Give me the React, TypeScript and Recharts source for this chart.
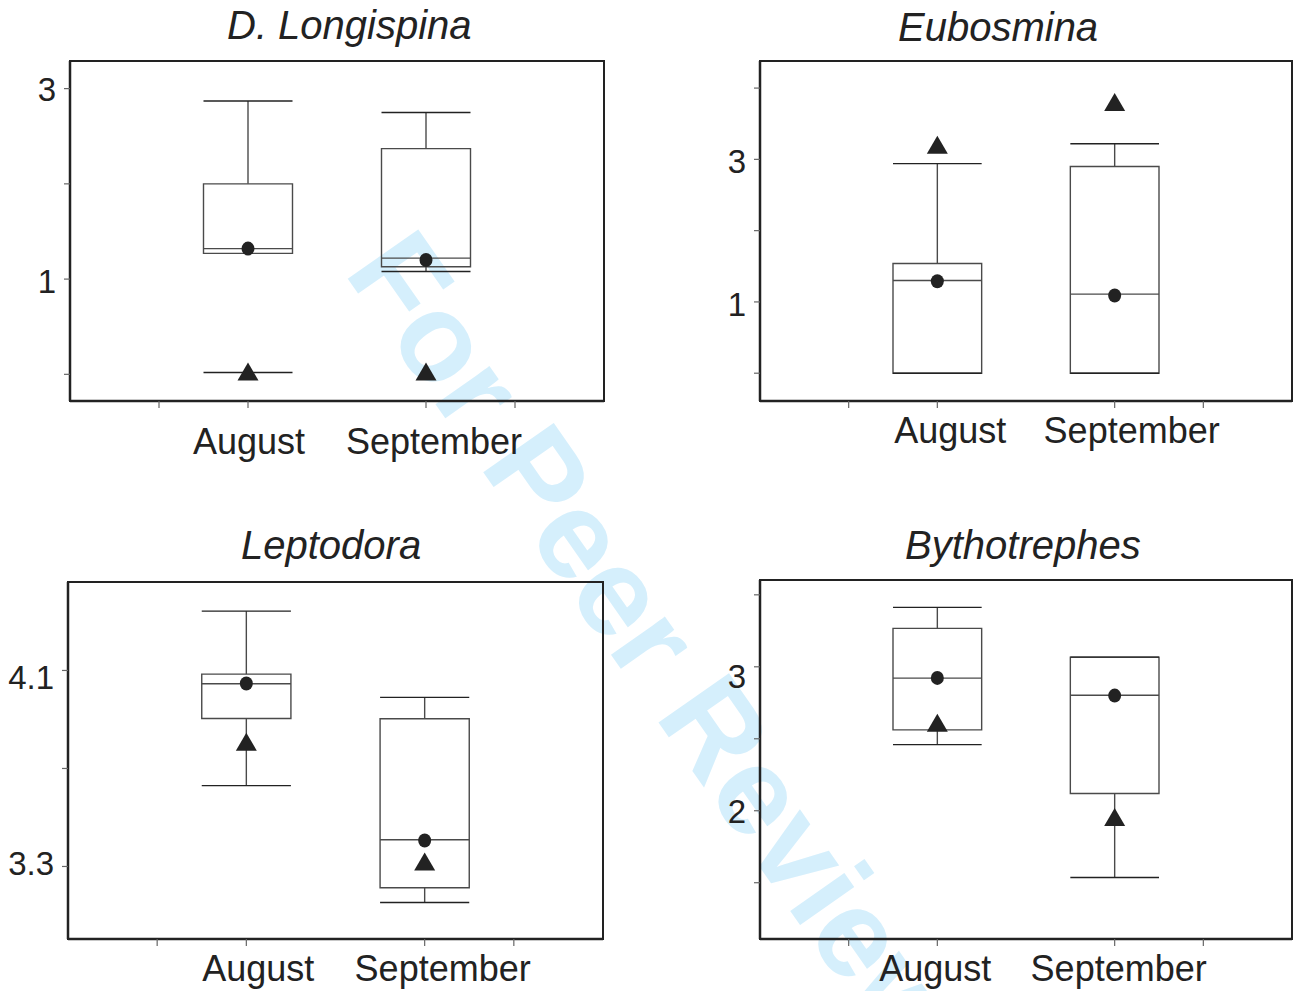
import React from 'react';
import { ComposedChart, XAxis, YAxis, Scatter, ReferenceArea, ReferenceLine } from 'recharts';

const MONTHS = ['August', 'September'];
const MONTH_POS = [1, 2];
const X_TICKS = [0.5, 1, 2, 2.5];

// D. Longispina  [August, September]
const longWhiskerHi = [2.87, 2.75];
const longBoxHi = [2.0, 2.37];
const longMedian = [1.32, 1.22];
const longBoxLo = [1.27, 1.13];
const longWhiskerLo = [0.02, 1.08];
const longMean = [1.32, 1.2];
const longTriangle = [0.02, 0.02];
const longTicks = [0, 1, 2, 3];
const longLabels = [1, 3];

// Eubosmina
const eubWhiskerHi = [2.94, 3.22];
const eubBoxHi = [1.54, 2.9];
const eubMedian = [1.3, 1.11];
const eubBoxLo = [0, 0];
const eubWhiskerLo = [0, 0];
const eubMean = [1.29, 1.09];
const eubTriangle = [3.19, 3.79];
const eubTicks = [0, 1, 2, 3, 4];
const eubLabels = [1, 3];

// Leptodora
const lepWhiskerHi = [4.342, 3.99];
const lepBoxHi = [4.085, 3.903];
const lepMedian = [4.046, 3.409];
const lepBoxLo = [3.904, 3.213];
const lepWhiskerLo = [3.63, 3.153];
const lepMean = [4.047, 3.406];
const lepTriangle = [3.805, 3.316];
const lepTicks = [3.3, 3.7, 4.1];
const lepLabels = [3.3, 4.1];

// Bythotrephes
const bytWhiskerHi = [3.413, 3.067];
const bytBoxHi = [3.267, 3.067];
const bytMedian = [2.921, 2.802];
const bytBoxLo = [2.562, 2.12];
const bytWhiskerLo = [2.459, 1.536];
const bytMean = [2.923, 2.8];
const bytTriangle = [2.605, 1.95];
const bytTicks = [1.5, 2, 2.5, 3, 3.5];
const bytLabels = [2, 3];

const INK = '#222';
const BOX = '#4a4a4a';
const HALF = 0.25;

const panels = [
  {
    title: 'D. Longispina', titleX: 227, titleY: 39,
    whiskerHi: longWhiskerHi, boxHi: longBoxHi, median: longMedian, boxLo: longBoxLo,
    whiskerLo: longWhiskerLo, lowStem: [false, true], mean: longMean, tri: longTriangle,
    ticks: longTicks, labels: longLabels, labelDy: [2, 1], yDomain: [-0.28, 3.29],
    chart: { left: 0, top: 0, width: 650, height: 480 },
    plot: { x0: 70, x1: 604, y0: 61, y1: 401 },
    tickMargin: 20, shifts: [1, 8],
  },
  {
    title: 'Eubosmina', titleX: 898, titleY: 41,
    whiskerHi: eubWhiskerHi, boxHi: eubBoxHi, median: eubMedian, boxLo: eubBoxLo,
    whiskerLo: eubWhiskerLo, lowStem: [false, false], mean: eubMean, tri: eubTriangle,
    ticks: eubTicks, labels: eubLabels, labelDy: [2, 2], yDomain: [-0.39, 4.38],
    chart: { left: 680, top: 0, width: 613, height: 480 },
    plot: { x0: 760, x1: 1292, y0: 61, y1: 401 },
    tickMargin: 9, shifts: [13, 17],
  },
  {
    title: 'Leptodora', titleX: 241, titleY: 559,
    whiskerHi: lepWhiskerHi, boxHi: lepBoxHi, median: lepMedian, boxLo: lepBoxLo,
    whiskerLo: lepWhiskerLo, lowStem: [true, true], mean: lepMean, tri: lepTriangle,
    ticks: lepTicks, labels: lepLabels, labelDy: [-3, 7], yDomain: [3.004, 4.461],
    chart: { left: 0, top: 500, width: 650, height: 491 },
    plot: { x0: 68, x1: 603, y0: 582, y1: 939 },
    tickMargin: 9, shifts: [12, 18],
  },
  {
    title: 'Bythotrephes', titleX: 905, titleY: 559,
    whiskerHi: bytWhiskerHi, boxHi: bytBoxHi, median: bytMedian, boxLo: bytBoxLo,
    whiskerLo: bytWhiskerLo, lowStem: [true, true], mean: bytMean, tri: bytTriangle,
    ticks: bytTicks, labels: bytLabels, labelDy: [1, 9], yDomain: [1.109, 3.603],
    chart: { left: 680, top: 500, width: 613, height: 491 },
    plot: { x0: 760, x1: 1292, y0: 580, y1: 939 },
    tickMargin: 9, shifts: [-2, 4],
  },
];

const Dot = ({ cx, cy }: any) => <ellipse cx={cx} cy={cy} rx={6.5} ry={7} fill={INK} />;
const Tri = ({ cx, cy }: any) => (
  <polygon points={`${cx},${cy - 10} ${cx - 10.5},${cy + 8} ${cx + 10.5},${cy + 8}`} fill={INK} />
);

function BoxPanel({ p }: { p: any }) {
  const { chart, plot } = p;
  const margin = {
    top: plot.y0 - chart.top,
    left: plot.x0 - chart.left - 60,
    right: chart.left + chart.width - plot.x1,
    bottom: chart.top + chart.height - plot.y1 - 50,
  };
  const meanData = MONTH_POS.map((x, i) => ({ x, y: p.mean[i] }));
  const triData = MONTH_POS.map((x, i) => ({ x, y: p.tri[i] }));
  const seg = (x1: number, y1: number, x2: number, y2: number, key: string, color = BOX) => (
    <ReferenceLine
      key={key}
      segment={[{ x: x1, y: y1 }, { x: x2, y: y2 }]}
      stroke={color}
      strokeWidth={1.4}
    />
  );

  return (
    <div style={{ position: 'absolute', left: chart.left, top: chart.top }}>
      <ComposedChart width={chart.width} height={chart.height} margin={margin}>
        <XAxis
          type="number"
          dataKey="x"
          domain={[0, 3]}
          allowDataOverflow
          ticks={X_TICKS}
          interval={0}
          height={50}
          tickSize={7}
          tickMargin={p.tickMargin}
          axisLine={{ stroke: INK, strokeWidth: 2.5 }}
          tickLine={{ stroke: '#666', strokeWidth: 1.2 }}
          tick={(props: any) => {
            const i = MONTH_POS.indexOf(props.payload.value);
            if (i < 0) return <g />;
            return (
              <text x={props.x + p.shifts[i]} y={props.y} dy="0.71em" textAnchor="middle" fontSize={36} fill={INK}>
                {MONTHS[i]}
              </text>
            );
          }}
        />
        <YAxis
          type="number"
          domain={p.yDomain}
          allowDataOverflow
          ticks={p.ticks}
          interval={0}
          width={60}
          tickSize={6}
          tickMargin={8}
          axisLine={{ stroke: INK, strokeWidth: 2.5 }}
          tickLine={{ stroke: '#666', strokeWidth: 1.2 }}
          tick={(props: any) => {
            const v = props.payload.value;
            const i = p.labels.findIndex((l: number) => Math.abs(l - v) < 1e-6);
            if (i < 0) return <g />;
            return (
              <text x={props.x} y={props.y + p.labelDy[i]} dy="0.355em" textAnchor="end" fontSize={33} fill={INK}>
                {String(p.labels[i])}
              </text>
            );
          }}
        />
        <ReferenceArea
          x1={0}
          x2={3}
          y1={p.yDomain[0]}
          y2={p.yDomain[1]}
          fill="none"
          stroke={INK}
          strokeWidth={2}
          ifOverflow="visible"
        />
        {MONTH_POS.map((x, i) => (
          <ReferenceArea
            key={`box${i}`}
            x1={x - HALF}
            x2={x + HALF}
            y1={p.boxLo[i]}
            y2={p.boxHi[i]}
            fill="none"
            fillOpacity={0}
            stroke={BOX}
            strokeWidth={1.4}
          />
        ))}
        {MONTH_POS.map((x, i) => seg(x - HALF, p.median[i], x + HALF, p.median[i], `med${i}`))}
        {MONTH_POS.map((x, i) => seg(x, p.boxHi[i], x, p.whiskerHi[i], `stemHi${i}`))}
        {MONTH_POS.map((x, i) => seg(x - HALF, p.whiskerHi[i], x + HALF, p.whiskerHi[i], `capHi${i}`, INK))}
        {MONTH_POS.map((x, i) =>
          p.lowStem[i] ? seg(x, p.boxLo[i], x, p.whiskerLo[i], `stemLo${i}`) : null
        )}
        {MONTH_POS.map((x, i) => seg(x - HALF, p.whiskerLo[i], x + HALF, p.whiskerLo[i], `capLo${i}`, INK))}
        <Scatter data={meanData} dataKey="y" shape={<Dot />} isAnimationActive={false} />
        <Scatter data={triData} dataKey="y" shape={<Tri />} isAnimationActive={false} />
      </ComposedChart>
    </div>
  );
}

export default function App() {
  return (
    <div
      style={{
        position: 'absolute',
        left: 0,
        top: 0,
        width: 1293,
        height: 991,
        overflow: 'hidden',
        background: '#fff',
        fontFamily: '"Liberation Sans", Arial, Helvetica, sans-serif',
      }}
    >
      <svg width={1293} height={991} style={{ position: 'absolute', left: 0, top: 0 }}>
        <text
          x={343}
          y={272}
          transform="rotate(55 343 272)"
          fontSize={125}
          fontWeight="bold"
          fill="#d5effc"
        >
          For Peer Review
        </text>
        {panels.map((p) => (
          <text key={p.title} x={p.titleX} y={p.titleY} fontSize={40} fontStyle="italic" fill={INK}>
            {p.title}
          </text>
        ))}
      </svg>
      {panels.map((p) => (
        <BoxPanel key={p.title} p={p} />
      ))}
    </div>
  );
}
